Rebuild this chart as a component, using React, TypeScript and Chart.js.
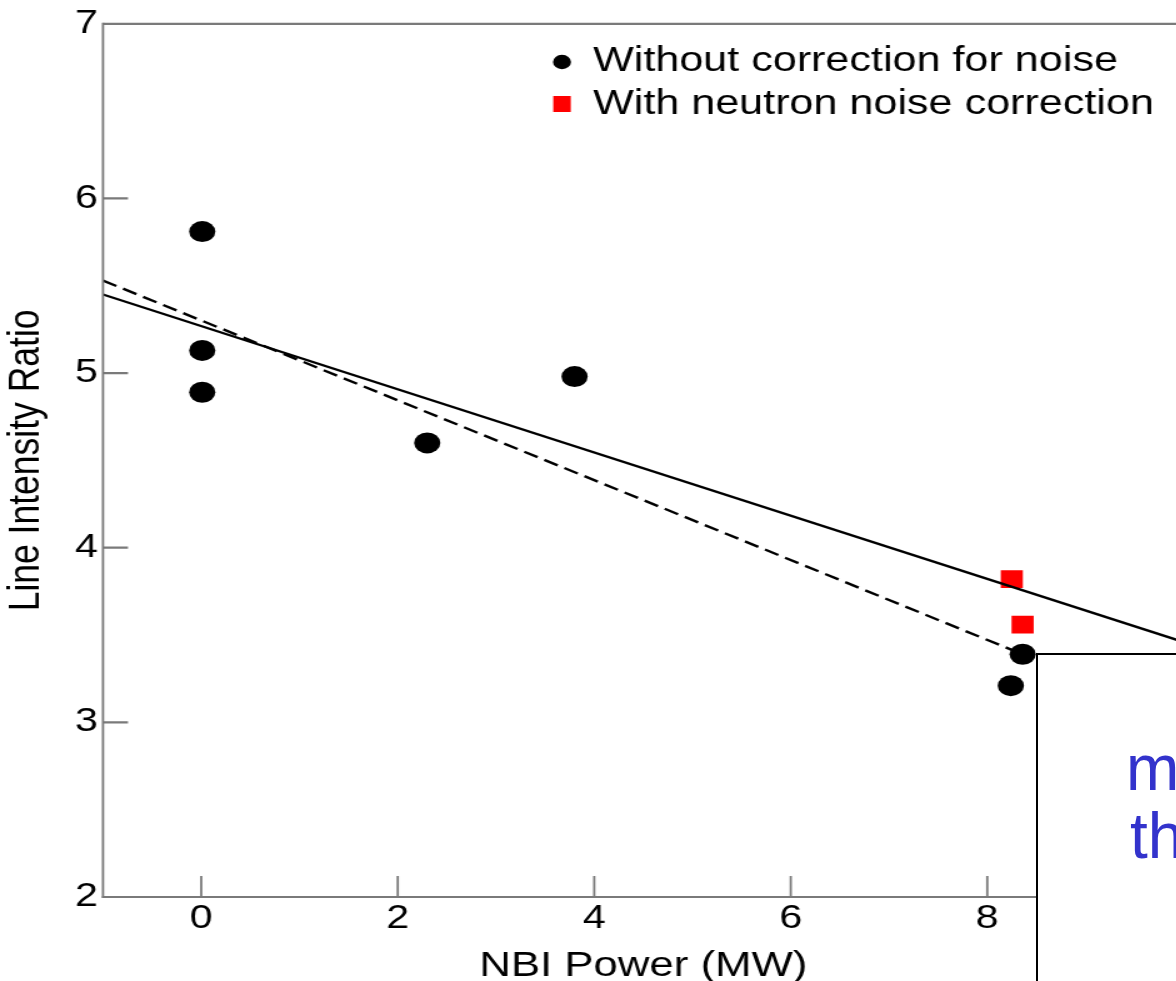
import { useEffect, useRef } from "react";
import { Chart, registerables } from "chart.js";

Chart.register(...registerables);

// ---- data ----
const X_TICKS = [0, 2, 4, 6, 8];
const Y_TICKS = [2, 3, 4, 5, 6, 7];
const RAW_X = [0.01, 0.01, 0.01, 2.3, 3.8, 8.24, 8.36];
const RAW_Y = [5.81, 5.13, 4.89, 4.6, 4.98, 3.21, 3.39];
const CORR_X = [8.25, 8.36];
const CORR_Y = [3.82, 3.56];
const FIT_SOLID_X = [-1, 10];
const FIT_SOLID_Y = [5.45, 3.46];
const FIT_DASH_X = [-1, 8.36];
const FIT_DASH_Y = [5.53, 3.39];
const LEGEND_LABELS = ["Without correction for noise", "With neutron noise correction"];
const X_TITLE = "NBI Power (MW)";
const Y_TITLE = "Line Intensity Ratio";
const NOTE_LINES = ["m", "th"];

const FONT = '"Liberation Sans", Arial, Helvetica, sans-serif';
const AXIS_COLOR = "#7a7a7a";
const STRETCH = 1.25;
const CW = 960;
const CH = 1000;

const toPts = (xs: number[], ys: number[]) => xs.map((x, i) => ({ x, y: ys[i] }));

const framePlugin = {
  id: "frame",
  afterDraw(chart: any) {
    const { ctx, chartArea, scales } = chart;
    const { left, right, top, bottom } = chartArea;
    ctx.save();
    ctx.strokeStyle = AXIS_COLOR;
    // horizontal lines
    ctx.lineWidth = 2.2;
    ctx.beginPath();
    ctx.moveTo(left, top);
    ctx.lineTo(right, top);
    ctx.moveTo(left - 0.8, bottom);
    ctx.lineTo(right, bottom);
    for (const v of Y_TICKS) {
      const py = scales.y.getPixelForValue(v);
      ctx.moveTo(left, py);
      ctx.lineTo(left + 20, py);
    }
    ctx.stroke();
    // vertical lines
    ctx.lineWidth = 1.8;
    ctx.beginPath();
    ctx.moveTo(left, top - 1.1);
    ctx.lineTo(left, bottom + 1.1);
    for (const v of X_TICKS) {
      const px = scales.x.getPixelForValue(v);
      ctx.moveTo(px, bottom);
      ctx.lineTo(px, bottom - 21);
    }
    ctx.stroke();

    // legend
    ctx.font = `34.5px ${FONT}`;
    ctx.textBaseline = "middle";
    ctx.textAlign = "left";
    ctx.fillStyle = "#000";
    ctx.beginPath();
    ctx.arc(449.6, 62, 7.2, 0, Math.PI * 2);
    ctx.fill();
    ctx.fillText(LEGEND_LABELS[0], 474.4, 61);
    ctx.fillStyle = "#ff0000";
    ctx.fillRect(449.6 - 7, 104 - 8, 14, 16);
    ctx.fillStyle = "#000";
    ctx.fillText(LEGEND_LABELS[1], 474.4, 104);
    ctx.restore();
  },
};

export default function App() {
  const ref = useRef<HTMLCanvasElement | null>(null);

  useEffect(() => {
    if (!ref.current) return;
    const chart = new Chart(ref.current, {
      type: "scatter",
      data: {
        datasets: [
          {
            label: "fit-solid",
            data: toPts(FIT_SOLID_X, FIT_SOLID_Y),
            showLine: true,
            borderColor: "#000",
            borderWidth: 2.4,
            pointRadius: 0,
            order: 0,
          },
          {
            label: "fit-dashed",
            data: toPts(FIT_DASH_X, FIT_DASH_Y),
            showLine: true,
            borderColor: "#000",
            borderWidth: 2.4,
            borderDash: [12, 6],
            pointRadius: 0,
            order: 0,
          },
          {
            label: LEGEND_LABELS[0],
            data: toPts(RAW_X, RAW_Y),
            pointStyle: "circle",
            pointRadius: 10.5,
            backgroundColor: "#000",
            borderWidth: 0,
            order: 1,
          },
          {
            label: LEGEND_LABELS[1],
            data: toPts(CORR_X, CORR_Y),
            pointStyle: "rect",
            pointRadius: 12.5,
            backgroundColor: "#ff0000",
            borderWidth: 0,
            order: 2,
          },
        ],
      },
      options: {
        responsive: false,
        animation: false,
        events: [],
        devicePixelRatio: 1,
        layout: { padding: { top: 22, right: 13, left: 0, bottom: 0 } },
        plugins: {
          legend: { display: false },
          tooltip: { enabled: false },
        },
        scales: {
          x: {
            type: "linear",
            min: -1,
            max: 10,
            grid: { display: false, drawTicks: false },
            border: { display: false },
            afterBuildTicks: (s: any) => {
              s.ticks = X_TICKS.map((v) => ({ value: v }));
            },
            afterFit: (s: any) => {
              s.height = 103;
            },
            ticks: {
              color: "#000",
              font: { family: FONT, size: 33 },
              padding: 2,
              maxRotation: 0,
              autoSkip: false,
            },
            title: {
              display: true,
              text: X_TITLE,
              color: "#000",
              font: { family: FONT, size: 35 },
              padding: { top: 0, bottom: 13 },
            },
          },
          y: {
            type: "linear",
            min: 2,
            max: 7,
            grid: { display: false, drawTicks: false },
            border: { display: false },
            afterBuildTicks: (s: any) => {
              s.ticks = Y_TICKS.map((v) => ({ value: v }));
            },
            afterFit: (s: any) => {
              s.width = 82.4;
            },
            ticks: {
              color: "#000",
              font: { family: FONT, size: 33 },
              padding: 4,
              autoSkip: false,
            },
            title: {
              display: true,
              text: Y_TITLE,
              color: "#000",
              font: { family: FONT, size: 35.5 },
              padding: 0,
            },
          },
        },
      },
      plugins: [framePlugin],
    } as any);
    return () => chart.destroy();
  }, []);

  return (
    <div
      style={{
        position: "fixed",
        left: 0,
        top: 0,
        width: 1176,
        height: 981,
        overflow: "hidden",
        background: "#fff",
      }}
    >
      <div
        style={{
          position: "absolute",
          left: 0,
          top: 0,
          width: CW,
          height: CH,
          transform: `scaleX(${STRETCH})`,
          transformOrigin: "0 0",
        }}
      >
        <canvas ref={ref} width={CW} height={CH} style={{ display: "block" }} />
      </div>
      <div
        style={{
          position: "absolute",
          left: 1036,
          top: 653,
          width: 400,
          height: 400,
          background: "#fff",
          border: "2px solid #000",
          boxSizing: "border-box",
        }}
      >
        {NOTE_LINES.map((t, i) => (
          <div
            key={i}
            style={{
              position: "absolute",
              left: i === 0 ? 88 : 92,
              top: 79 + i * 68,
              font: `64px ${FONT}`,
              lineHeight: "68px",
              color: "#3333cc",
              whiteSpace: "nowrap",
            }}
          >
            {t}
          </div>
        ))}
      </div>
    </div>
  );
}
